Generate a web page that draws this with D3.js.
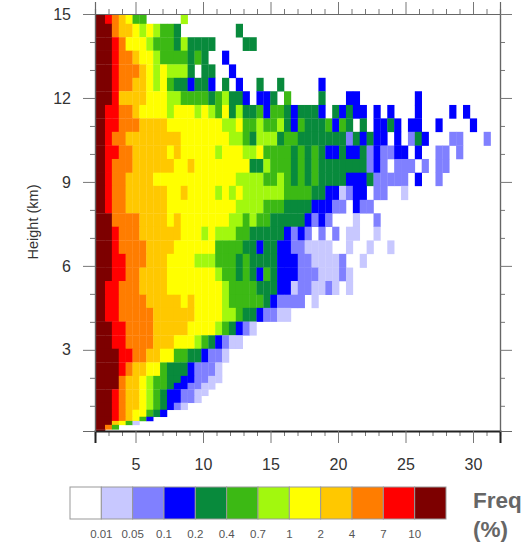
<!DOCTYPE html>
<html>
<head>
<meta charset="utf-8">
<script src="https://cdn.jsdelivr.net/npm/d3@7"></script>
<style>
  html, body { margin: 0; padding: 0; background: #fff; overflow: hidden; }
  svg { display: block; font-family: "Liberation Sans", Arial, sans-serif; }
</style>
</head>
<body>
<div id="chart"></div>
<script>
// Frequency classes, lowest to highest
const classColors = ["#ffffff", "#c8c8ff", "#8080ff", "#0000ff", "#088a3c", "#3cb914",
    "#a2f80e", "#ffff00", "#ffc800", "#ff7d00", "#ff0000", "#7d0000"];
const classLabels = ["0.01", "0.05", "0.1", "0.2", "0.4", "0.7", "1", "2", "4", "7", "10"];

const xTicks = [5, 10, 15, 20, 25, 30];
const yTicks = [3, 6, 9, 12, 15];
const xMinorTicks = [2, 3, 4, 6, 7, 8, 9, 11, 12, 13, 14, 16, 17, 18, 19, 21, 22, 23, 24, 26, 27, 28, 29, 31, 32];
const yMinorTicks = [1, 2, 4, 5, 7, 8, 10, 11, 13, 14];

// Bin edges: reflectivity (dBZ) and height (km)
const dbzEdges = [2, 2.74, 3.25, 3.76, 4.27, 4.78, 5.29, 5.8, 6.31, 6.82, 7.33, 7.84, 8.35, 8.86, 9.37,
    9.88, 10.39, 10.9, 11.41, 11.92, 12.43, 12.94, 13.45, 13.96, 14.47, 14.98, 15.49, 16, 16.51, 17.02,
    17.53, 18.04, 18.55, 19.06, 19.57, 20.08, 20.59, 21.1, 21.61, 22.12, 22.63, 23.14, 23.65, 24.16,
    24.67, 25.18, 25.69, 26.2, 26.71, 27.22, 27.73, 28.24, 28.75, 29.26, 29.77, 30.28, 30.79, 31.3];
const heightEdges = [15, 14.65, 14.17, 13.69, 13.2, 12.72, 12.24, 11.75, 11.27, 10.79, 10.3, 9.82, 9.33,
    8.86, 8.36, 7.88, 7.4, 6.91, 6.43, 5.94, 5.46, 4.97, 4.5, 4.01, 3.52, 3.04, 2.55, 2.07, 1.82, 1.59,
    1.36, 1.11, 0.86, 0.61, 0.46, 0.32, 0.16, 0.11];

// One string per height bin, top to bottom. Each character is a class index (hex),
// spaces only group the columns in tens.
const freqRows = [
    "ba98755000 006",
    "bb98876765 5400000000 4",
    "bba9777655 5464444000 044",
    "bba9987765 5554540030",
    "bba9998767 6664044003",
    "bba9988767 5443443040 3004004000 003",
    "bba8888777 6655554564 4303340500 0040003300 0000003",
    "baa9987777 6777676574 6445355434 4430434330 3030003000 0303",
    "baa9998888 7777777766 7556556435 4445354040 3343033003 00003",
    "ba99888888 8877777776 6546664554 4444442434 3303024300 0220002",
    "baa9988888 7877777677 7667555545 4543343342 3223303002 202",
    "ba99988888 8778777777 7744655545 4544444442 3202220202 2",
    "ba99888877 7777777777 6666556545 4544443334 2222203002",
    "ba99888888 7787777676 7666666555 5443312330 22001",
    "ba99888888 7777777777 6666555444 4333220322",
    "bb99998888 7877777776 6565544444 3232000100 2",
    "bba9998888 8877767666 5544444323 2020201100 1",
    "bba9999888 8777777555 5443443322 1111001001 001",
    "bbaa999888 7777666555 4544443332 2111120010",
    "bbaa998888 7777777655 4543543332 2211121",
    "baa9998888 7777777765 5554443312 2112101",
    "baa9999888 8878777765 5555432222 01",
    "baa9999988 8888777766 54432211",
    "bbaa999988 8887777654 321",
    "bbaa999988 8777654321 1",
    "bbbaa99887 755443221",
    "bbba988775 44432221",
    "bbb9887655 44332211",
    "bbb9887655 4332211",
    "bba9887654 332211",
    "bba9887654 33221",
    "bba9887654 321",
    "bba9877543",
    "bba98753",
    "bb8751",
    "b95",
    "b"
];

const margin = { top: 14, right: 23, bottom: 115, left: 95 };
const width = 523 - margin.left - margin.right;
const height = 546 - margin.top - margin.bottom;

const root = d3.select("#chart").append("svg")
    .attr("width", 523)
    .attr("height", 546);

const svg = root.append("g")
    .attr("transform", `translate(${margin.left},${margin.top})`);

// Scales
const x = d3.scaleLinear().domain([2, 32]).range([0, width]);
const y = d3.scaleLinear().domain([0.1, 15]).range([height, 0]);

// Cells
const cells = [];
freqRows.forEach((row, r) => {
    row.replace(/ /g, "").split("").forEach((ch, c) => {
        const level = parseInt(ch, 16);
        if (level > 0) cells.push({ r, c, level });
    });
});

svg.selectAll(".cell")
    .data(cells)
    .enter()
    .append("rect")
    .attr("class", "cell")
    .attr("x", d => x(dbzEdges[d.c]))
    .attr("y", d => y(heightEdges[d.r]))
    .attr("width", d => x(dbzEdges[d.c + 1]) - x(dbzEdges[d.c]) + 0.3)
    .attr("height", d => y(heightEdges[d.r + 1]) - y(heightEdges[d.r]) + 0.3)
    .attr("fill", d => classColors[d.level]);

// Axes: each side gets a major and a minor tick set
function drawAxis(axisFn, scale, major, minor, translate, labelled, padding) {
    const g = svg.append("g").attr("transform", translate);
    g.call(axisFn(scale).tickValues(minor).tickSize(5).tickFormat(""));
    const m = svg.append("g").attr("transform", translate);
    m.call(axisFn(scale).tickValues(major).tickSize(12).tickPadding(padding)
        .tickFormat(labelled ? d3.format("d") : ""));
    [g, m].forEach(a => {
        a.select(".domain").attr("stroke", "#666").attr("stroke-width", 1.2);
        a.selectAll(".tick line").attr("stroke", "#777").attr("stroke-width", 1);
    });
    m.selectAll("text").attr("font-size", 16).attr("fill", "#333");
    return m;
}

const bottomAxis = drawAxis(d3.axisBottom, x, xTicks, xMinorTicks, `translate(0,${height})`, true, 16);
bottomAxis.select(".domain").attr("stroke", "#222").attr("stroke-width", 2);
drawAxis(d3.axisTop, x, xTicks, xMinorTicks, "translate(0,0)", false, 3);
drawAxis(d3.axisLeft, y, yTicks, yMinorTicks, "translate(0,0)", true, 12);
drawAxis(d3.axisRight, y, yTicks, yMinorTicks, `translate(${width},0)`, false, 3);

svg.append("text")
    .attr("transform", "rotate(-90)")
    .attr("x", -(222 - margin.top))
    .attr("y", -57)
    .style("text-anchor", "middle")
    .attr("font-size", 14.5)
    .attr("fill", "#333")
    .text("Height (km)");

// Colour bar
const barX = d3.scaleLinear().domain([0, classColors.length]).range([70, 446]);
const bar = root.append("g");

bar.selectAll("rect")
    .data(classColors)
    .enter()
    .append("rect")
    .attr("x", (d, i) => barX(i))
    .attr("y", 487)
    .attr("width", (d, i) => barX(i + 1) - barX(i))
    .attr("height", 32)
    .attr("fill", d => d)
    .attr("stroke", "#999")
    .attr("stroke-width", 1);

bar.selectAll("text")
    .data(classLabels)
    .enter()
    .append("text")
    .attr("x", (d, i) => barX(i + 1))
    .attr("y", 538)
    .style("text-anchor", "middle")
    .attr("font-size", 11.5)
    .attr("fill", "#555")
    .text(d => d);

root.append("text")
    .attr("x", 473)
    .attr("y", 508)
    .attr("font-size", 22.5)
    .attr("font-weight", "bold")
    .attr("fill", "#666")
    .text("Freq");

root.append("text")
    .attr("x", 473)
    .attr("y", 537)
    .attr("font-size", 22.5)
    .attr("font-weight", "bold")
    .attr("fill", "#666")
    .text("(%)");
</script>
</body>
</html>
